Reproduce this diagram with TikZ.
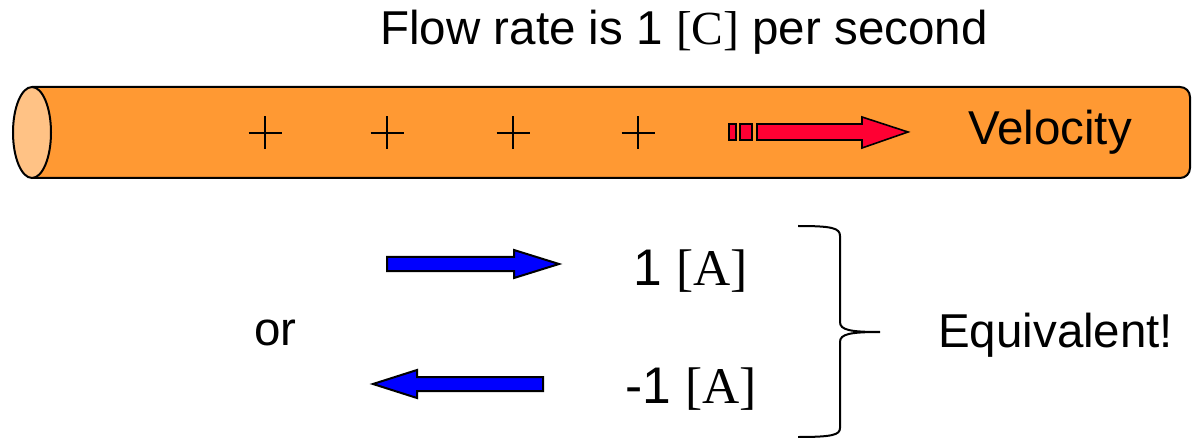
\documentclass[tikz,border=0pt]{standalone}
\usepackage{fontspec}
\setmainfont{Liberation Sans}
\newfontfamily\tnr{Liberation Serif}
\definecolor{pipeorange}{RGB}{255,153,51}
\definecolor{capcolor}{RGB}{255,194,133}
\definecolor{velred}{RGB}{255,0,51}
\definecolor{curblue}{RGB}{0,0,255}
\begin{document}
\begin{tikzpicture}[x=1pt,y=-1pt,
  outline/.style={draw=black,line width=2pt},
  arrowshape/.style={draw=black,line width=2pt,line join=miter},
  plusline/.style={draw=black,line width=2.4pt},
  bigtext/.style={inner sep=0pt,font=\fontsize{47.5}{57}\selectfont},
  amptext/.style={inner sep=0pt,font=\fontsize{51.5}{62}\selectfont}]
\useasboundingbox (0,0) rectangle (1193,438);
% pipe body
\path[outline,fill=pipeorange] (32,87) [rounded corners=10pt] -- (1190,87) -- (1190,178) [sharp corners] -- (32,178);
\path[outline,fill=capcolor] (32,132.5) ellipse [x radius=19, y radius=45.5];
% charges
\foreach \x in {265,387,513,638}{
  \path[plusline] (\x-16.5,133) -- (\x+16.5,133) (\x,116.5) -- (\x,149.5);
}
% velocity arrow
\path[arrowshape,line width=1.6pt,fill=velred] (729,124) rectangle (736,140);
\path[arrowshape,line width=1.6pt,fill=velred] (740,124) rectangle (752,140);
\path[arrowshape,line width=1.6pt,fill=velred] (757,124) -- (862,124) -- (862,117) -- (908,132) -- (862,148) -- (862,140) -- (757,140) -- cycle;
% texts
\node[bigtext,anchor=base] (title) at (684,45) {Flow rate is 1 {\tnr [C]} per second};
\node[bigtext,anchor=base west] (vel) at (968,145) {Velocity};
% current arrows
\path[arrowshape,fill=curblue] (387,257) -- (514,257) -- (514,250) -- (559,264) -- (514,278) -- (514,271) -- (387,271) -- cycle;
\path[arrowshape,fill=curblue] (543,377) -- (417,377) -- (417,370) -- (373,384) -- (417,398) -- (417,391) -- (543,391) -- cycle;
\node[amptext,anchor=base west] (a1) at (633,285) {1 {\tnr [A]}};
\node[amptext,anchor=base west] (a2) at (625,403) {-1 {\tnr [A]}};
\node[bigtext,anchor=base west] (or) at (254,345) {or};
\node[bigtext,anchor=base west] (eq) at (938,347) {Equivalent!};
% brace
\coordinate (btop) at (798,226);
\coordinate (btip) at (880,332);
\coordinate (bbot) at (798,437);
\draw[line width=2pt] (btop) .. controls (832,226) and (840,228) .. (840,236) -- (840,322) .. controls (840,330) and (850,332) .. (btip)
  .. controls (850,332) and (840,334) .. (840,342) -- (840,428) .. controls (840,435) and (832,437) .. (bbot);
\end{tikzpicture}
\end{document}
